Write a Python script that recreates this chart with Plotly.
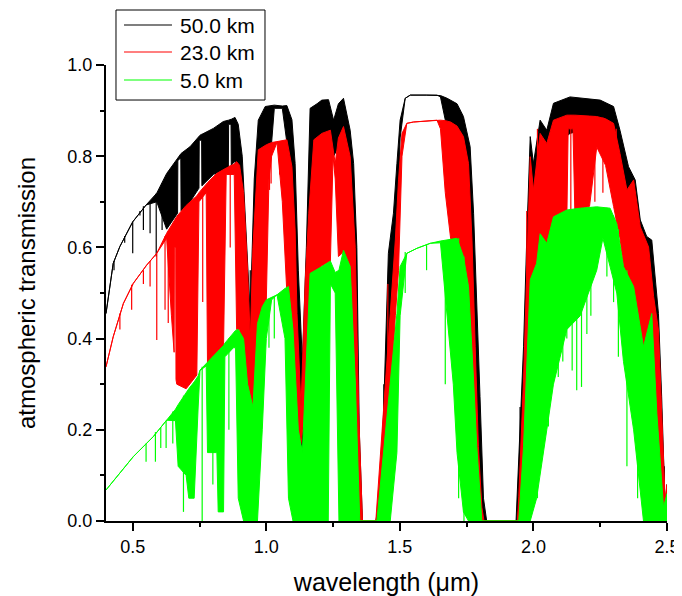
import plotly.graph_objects as go

# ---------------- data ----------------
# Each series: knots of wavelength (um), upper envelope of transmission and
# lower edge of the densely packed absorption-line region (equal to the
# envelope where the curve is a single clean line).
BLACK_WL = [0.40, 0.427, 0.452, 0.50, 0.55, 0.59, 0.627, 0.668, 0.669, 0.677, 0.68, 0.681, 0.715, 0.748,
            0.749, 0.752, 0.758, 0.759, 0.802, 0.839, 0.858, 0.859, 0.868, 0.869, 0.883, 0.895,
            0.91, 0.925, 0.94, 0.955, 0.97, 0.996, 1.02, 1.03, 1.06, 1.077, 1.096, 1.108, 1.12, 1.135, 1.15,
            1.164, 1.19, 1.208, 1.233, 1.252, 1.27, 1.289, 1.314, 1.327, 1.339, 1.348, 1.36, 1.41, 1.425,
            1.439, 1.457, 1.476, 1.489, 1.501, 1.52, 1.539, 1.60, 1.639, 1.652, 1.677, 1.714, 1.738, 1.763,
            1.776, 1.788, 1.80, 1.813, 1.825, 1.935, 1.951, 1.963, 1.976, 1.988, 2.00, 2.025, 2.05, 2.075,
            2.137, 2.20, 2.25, 2.30, 2.324, 2.356, 2.381, 2.40, 2.424, 2.443, 2.468, 2.48, 2.493, 2.50]
BLACK_TOP = [0.455, 0.565, 0.602, 0.656, 0.693, 0.719, 0.762, 0.797, 0.798, 0.803, 0.805, 0.806, 0.821, 0.845,
             0.845, 0.846, 0.848, 0.848, 0.861, 0.876, 0.879, 0.879, 0.881, 0.881, 0.885, 0.87,
             0.80, 0.62, 0.45, 0.75, 0.879, 0.909, 0.912, 0.912, 0.91, 0.911, 0.88, 0.784, 0.55, 0.35, 0.60,
             0.905, 0.915, 0.923, 0.924, 0.879, 0.915, 0.927, 0.857, 0.784, 0.60, 0.20, 0.0, 0.0, 0.05,
             0.236, 0.587, 0.675, 0.784, 0.879, 0.927, 0.934, 0.934, 0.934, 0.933, 0.927, 0.915, 0.887, 0.821,
             0.675, 0.455, 0.273, 0.05, 0.0, 0.0, 0.236, 0.382, 0.638, 0.843, 0.784, 0.879, 0.857, 0.916,
             0.93, 0.927, 0.923, 0.909, 0.857, 0.777, 0.748, 0.66, 0.624, 0.616, 0.455, 0.273, 0.03, 0.08]
BLACK_BOT = [0.455, 0.565, 0.602, 0.656, 0.693, 0.70, 0.64, 0.675, 0.79, 0.795, 0.795, 0.68, 0.70, 0.73,
             0.835, 0.835, 0.835, 0.735, 0.76, 0.77, 0.775, 0.87, 0.87, 0.78, 0.79, 0.60,
             0.40, 0.30, 0.30, 0.40, 0.70, 0.82, 0.83, 0.905, 0.905, 0.83, 0.70, 0.55, 0.25, 0.15, 0.30,
             0.60, 0.84, 0.85, 0.85, 0.80, 0.82, 0.86, 0.78, 0.60, 0.35, 0.05, 0.0, 0.0, 0.0,
             0.0, 0.20, 0.45, 0.60, 0.84, 0.927, 0.934, 0.934, 0.934, 0.93, 0.86, 0.82, 0.80, 0.70,
             0.50, 0.25, 0.05, 0.0, 0.0, 0.0, 0.0, 0.10, 0.40, 0.60, 0.60, 0.75, 0.75, 0.82,
             0.85, 0.86, 0.86, 0.83, 0.75, 0.65, 0.60, 0.55, 0.50, 0.40, 0.20, 0.05, 0.0, 0.0]

RED_WL = [0.40, 0.427, 0.465, 0.502, 0.552, 0.59, 0.627, 0.645, 0.655, 0.656, 0.661, 0.662, 0.665, 0.70,
          0.74, 0.748, 0.775, 0.78,
          0.814, 0.84, 0.85, 0.88, 0.889, 0.90, 0.915, 0.93, 0.94, 0.95, 0.97, 1.00, 1.01, 1.02, 1.04,
          1.06, 1.077, 1.096, 1.108, 1.115, 1.13, 1.146, 1.159, 1.178, 1.208, 1.24, 1.25, 1.258, 1.27,
          1.289, 1.314, 1.333, 1.346, 1.36, 1.41, 1.445, 1.464, 1.483, 1.495, 1.508, 1.526, 1.551, 1.60,
          1.639, 1.652, 1.67, 1.69, 1.714, 1.738, 1.757, 1.77, 1.782, 1.794, 1.807, 1.815, 1.94, 1.945,
          1.963, 1.976, 1.988, 2.00, 2.025, 2.05, 2.075, 2.125, 2.13, 2.148, 2.155, 2.21, 2.237, 2.27,
          2.29, 2.30, 2.324, 2.35, 2.375, 2.40, 2.431, 2.45, 2.468, 2.48, 2.493, 2.50]
RED_TOP = [0.338, 0.404, 0.477, 0.521, 0.561, 0.587, 0.631, 0.648, 0.658, 0.659, 0.663, 0.664, 0.668, 0.692,
           0.713, 0.72, 0.738, 0.742,
           0.762, 0.772, 0.774, 0.783, 0.788, 0.78, 0.72, 0.55, 0.40, 0.60, 0.814, 0.825, 0.828, 0.83, 0.832,
           0.834, 0.836, 0.777, 0.638, 0.455, 0.25, 0.529, 0.675, 0.836, 0.850, 0.857, 0.82, 0.784, 0.84,
           0.865, 0.799, 0.60, 0.236, 0.0, 0.0, 0.309, 0.455, 0.616, 0.748, 0.850, 0.872, 0.875, 0.877,
           0.879, 0.879, 0.878, 0.875, 0.866, 0.843, 0.784, 0.616, 0.382, 0.163, 0.03, 0.0, 0.0, 0.053,
           0.309, 0.565, 0.799, 0.726, 0.85, 0.828, 0.879, 0.89, 0.89, 0.89, 0.89, 0.888, 0.887, 0.882,
           0.876, 0.872, 0.806, 0.726, 0.748, 0.645, 0.601, 0.492, 0.419, 0.236, 0.046, 0.08]
RED_BOT = [0.338, 0.404, 0.477, 0.521, 0.561, 0.587, 0.62, 0.45, 0.37, 0.60, 0.60, 0.31, 0.30, 0.29,
           0.32, 0.70, 0.72, 0.34,
           0.36, 0.38, 0.76, 0.76, 0.42, 0.42, 0.35, 0.22, 0.20, 0.25, 0.43, 0.48, 0.75, 0.80, 0.83,
           0.70, 0.50, 0.40, 0.30, 0.18, 0.17, 0.25, 0.50, 0.54, 0.56, 0.57, 0.80, 0.75, 0.58,
           0.59, 0.56, 0.31, 0.0, 0.0, 0.0, 0.05, 0.25, 0.45, 0.55, 0.80, 0.872, 0.875, 0.877,
           0.879, 0.86, 0.72, 0.62, 0.55, 0.40, 0.15, 0.0, 0.0, 0.0, 0.0, 0.0, 0.0, 0.0,
           0.0, 0.10, 0.45, 0.50, 0.55, 0.55, 0.62, 0.66, 0.86, 0.86, 0.68, 0.69, 0.82, 0.78,
           0.72, 0.69, 0.62, 0.50, 0.45, 0.35, 0.20, 0.05, 0.0, 0.0, 0.0, 0.0]

GREEN_WL = [0.40, 0.502, 0.577, 0.627, 0.66, 0.67, 0.70, 0.71, 0.73, 0.745, 0.752, 0.775, 0.78, 0.815,
            0.82, 0.84, 0.845, 0.877, 0.885, 0.895, 0.915, 0.93, 0.95, 0.967, 0.985, 1.00, 1.02, 1.04,
            1.07, 1.083, 1.10, 1.12, 1.135, 1.15, 1.164, 1.208, 1.232, 1.24, 1.258, 1.272, 1.289, 1.314,
            1.333, 1.35, 1.414, 1.464, 1.489, 1.501, 1.526, 1.564, 1.614, 1.652, 1.677, 1.70, 1.714, 1.738,
            1.757, 1.776, 1.788, 1.807, 1.945, 1.963, 1.988, 2.012, 2.025, 2.05, 2.075, 2.125, 2.175, 2.237,
            2.26, 2.287, 2.312, 2.337, 2.375, 2.412, 2.443, 2.462, 2.487, 2.50]
GREEN_TOP = [0.068, 0.141, 0.185, 0.221, 0.245, 0.255, 0.283, 0.29, 0.305, 0.318, 0.331, 0.345, 0.348, 0.368,
             0.372, 0.385, 0.39, 0.412, 0.418, 0.42, 0.40, 0.30, 0.25, 0.433, 0.47, 0.485, 0.49, 0.496,
             0.51, 0.514, 0.419, 0.20, 0.15, 0.35, 0.543, 0.558, 0.568, 0.57, 0.545, 0.55, 0.594, 0.558,
             0.309, 0.0, 0.0, 0.309, 0.455, 0.558, 0.587, 0.598, 0.609, 0.614, 0.616, 0.618, 0.62, 0.58,
             0.514, 0.309, 0.163, 0.0, 0.0, 0.163, 0.529, 0.565, 0.63, 0.609, 0.667, 0.682, 0.686, 0.689,
             0.688, 0.686, 0.652, 0.558, 0.514, 0.382, 0.455, 0.236, 0.03, 0.06]
GREEN_BOT = [0.068, 0.141, 0.185, 0.221, 0.22, 0.12, 0.10, 0.05, 0.05, 0.25, 0.33, 0.34, 0.15, 0.15,
             0.02, 0.02, 0.36, 0.38, 0.38, 0.05, 0.0, 0.0, 0.0, 0.0, 0.20, 0.40, 0.485, 0.496,
             0.40, 0.05, 0.0, 0.0, 0.0, 0.0, 0.0, 0.0, 0.0, 0.52, 0.50, 0.0, 0.0, 0.0,
             0.0, 0.0, 0.0, 0.0, 0.15, 0.45, 0.587, 0.598, 0.609, 0.61, 0.45, 0.30, 0.15, 0.02,
             0.0, 0.0, 0.0, 0.0, 0.0, 0.0, 0.0, 0.05, 0.10, 0.20, 0.30, 0.42, 0.45, 0.55,
             0.62, 0.56, 0.50, 0.35, 0.20, 0.0, 0.0, 0.0, 0.0, 0.0]

# Isolated deep absorption lines: wavelength, top and bottom transmission
BLACK_SPK_WL = [0.43, 0.47, 0.50, 0.527, 0.54, 0.565, 0.588, 0.61, 0.94, 1.44, 1.95, 2.49]
BLACK_SPK_TOP = [0.57, 0.625, 0.656, 0.68, 0.69, 0.70, 0.718, 0.74, 0.55, 0.30, 0.25, 0.12]
BLACK_SPK_BOT = [0.55, 0.61, 0.587, 0.67, 0.638, 0.631, 0.58, 0.638, 0.32, 0.0, 0.0, 0.0]

RED_SPK_WL = [0.452, 0.496, 0.54, 0.565, 0.59, 0.621, 0.633, 0.762, 0.795, 0.865, 1.012, 1.018, 1.05,
              1.455, 1.975, 2.015, 2.14, 2.23, 2.26, 2.31]
RED_SPK_TOP = [0.455, 0.518, 0.55, 0.57, 0.587, 0.625, 0.635, 0.73, 0.75, 0.78, 0.828, 0.829, 0.833,
               0.52, 0.68, 0.86, 0.89, 0.888, 0.885, 0.86]
RED_SPK_BOT = [0.42, 0.463, 0.52, 0.514, 0.397, 0.463, 0.434, 0.48, 0.43, 0.60, 0.726, 0.74, 0.76,
               0.20, 0.30, 0.50, 0.60, 0.70, 0.72, 0.55]

GREEN_SPK_WL = [0.55, 0.585, 0.605, 0.625, 0.65, 0.69, 0.76, 0.80, 0.86, 1.01, 1.03, 1.52, 1.60, 1.67,
                1.72, 1.74, 2.015, 2.056, 2.093, 2.11, 2.125, 2.145, 2.162, 2.18, 2.20, 2.215, 2.275,
                2.30, 2.318, 2.35, 2.39]
GREEN_SPK_TOP = [0.17, 0.195, 0.205, 0.22, 0.24, 0.275, 0.338, 0.36, 0.40, 0.487, 0.492, 0.59, 0.605, 0.615,
                 0.62, 0.58, 0.57, 0.62, 0.67, 0.675, 0.682, 0.684, 0.685, 0.686, 0.687, 0.688, 0.687,
                 0.67, 0.64, 0.55, 0.45]
GREEN_SPK_BOT = [0.13, 0.13, 0.16, 0.16, 0.17, 0.02, 0.0, 0.08, 0.20, 0.38, 0.40, 0.50, 0.55, 0.30,
                 0.05, 0.0, 0.05, 0.207, 0.316, 0.35, 0.40, 0.33, 0.287, 0.294, 0.41, 0.45, 0.536,
                 0.48, 0.36, 0.12, 0.05]

SERIES_NAMES = ["50.0 km", "23.0 km", "5.0 km"]
SERIES_COLORS = ["#000000", "#ff0000", "#00ff00"]

X_TICKS = [0.5, 1.0, 1.5, 2.0, 2.5]
X_TICK_TEXT = ["0.5", "1.0", "1.5", "2.0", "2.5"]
Y_TICKS = [0.0, 0.2, 0.4, 0.6, 0.8, 1.0]
Y_TICK_TEXT = ["0.0", "0.2", "0.4", "0.6", "0.8", "1.0"]

# ---------------- figure ----------------
fig = go.Figure()

series = [
    (BLACK_WL, BLACK_TOP, BLACK_BOT, BLACK_SPK_WL, BLACK_SPK_TOP, BLACK_SPK_BOT),
    (RED_WL, RED_TOP, RED_BOT, RED_SPK_WL, RED_SPK_TOP, RED_SPK_BOT),
    (GREEN_WL, GREEN_TOP, GREEN_BOT, GREEN_SPK_WL, GREEN_SPK_TOP, GREEN_SPK_BOT),
]

for (wl, top, bot, swl, stop, sbot), name, col in zip(series, SERIES_NAMES, SERIES_COLORS):
    # dense band (envelope down to the lower edge of the packed lines)
    fig.add_trace(go.Scatter(
        x=list(wl) + list(wl[::-1]),
        y=list(top) + list(bot[::-1]),
        mode="lines", fill="toself", fillcolor=col,
        line=dict(color=col, width=1), showlegend=False, hoverinfo="skip", name=name))
    # isolated lines
    xs, ys = [], []
    for w, t, b in zip(swl, stop, sbot):
        xs += [w, w, None]
        ys += [t, b, None]
    fig.add_trace(go.Scatter(
        x=xs, y=ys, mode="lines", name=name,
        line=dict(color=col, width=1.2), showlegend=False))

FONT = "Arial, Liberation Sans, sans-serif"

# legend box drawn in paper coordinates (boxed key at the top-left)
fig.add_shape(type="rect", xref="paper", yref="paper",
              x0=0.0178, x1=0.2834, y0=0.9232, y1=1.1206,
              line=dict(color="black", width=1), fillcolor="white", layer="above")
LEG_Y = [1.0877, 1.0285, 0.9671]
for name, col, ly in zip(SERIES_NAMES, SERIES_COLORS, LEG_Y):
    fig.add_shape(type="line", xref="paper", yref="paper",
                  x0=0.0321, x1=0.1176, y0=ly, y1=ly,
                  line=dict(color=col, width=1.2), layer="above")
    fig.add_annotation(xref="paper", yref="paper", x=0.1283, y=ly,
                       xanchor="left", yanchor="middle", text=name, showarrow=False,
                       font=dict(size=21, family=FONT, color="black"))

# the page body adds an 8 px offset; the figure is sized so the plot lands
# where the reference has it inside the 682x596 window
fig.update_layout(
    width=674, height=588,
    margin=dict(l=98, r=15, t=57, b=75, autoexpand=False),
    paper_bgcolor="white", plot_bgcolor="white",
    font=dict(family=FONT, color="black", size=18),
    showlegend=False,
)

fig.update_xaxes(
    range=[0.4, 2.5], showgrid=False, zeroline=False, automargin=False,
    showline=True, linecolor="black", linewidth=2,
    ticks="outside", ticklen=8, tickwidth=1.5, tickcolor="black",
    tickvals=X_TICKS, ticktext=X_TICK_TEXT,
    tickfont=dict(size=18, family=FONT),
    minor=dict(ticks="outside", ticklen=4, tickwidth=1.5, tickcolor="black", dtick=0.25, tick0=0.5),
    title=dict(text="wavelength (\u03bcm)", font=dict(size=25, family=FONT), standoff=22),
)
fig.update_yaxes(
    range=[0.0, 1.0], showgrid=False, zeroline=False, automargin=False,
    showline=True, linecolor="black", linewidth=2,
    ticks="outside", ticklen=8, tickwidth=1.5, tickcolor="black",
    tickvals=Y_TICKS, ticktext=Y_TICK_TEXT,
    tickfont=dict(size=18, family=FONT),
    minor=dict(ticks="outside", ticklen=4, tickwidth=1.5, tickcolor="black", dtick=0.1, tick0=0.0),
    title=dict(text="atmospheric transmission", font=dict(size=24, family=FONT), standoff=25),
)

fig.write_html("out.html")
